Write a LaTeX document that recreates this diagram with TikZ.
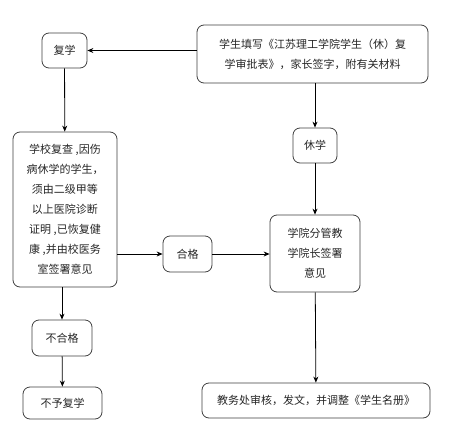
\documentclass[tikz,border=0pt]{standalone}
\usepackage{fontspec}
\newfontfamily\cjk{Noto Sans CJK SC}
\usetikzlibrary{positioning,arrows.meta}

\begin{document}
\begin{tikzpicture}[
    x=1pt, y=-1pt,
    stepbox/.style={
        draw=black!75,
        line width=0.8pt,
        rounded corners=7pt,
        inner sep=0pt,
        align=center,
        anchor=center,
        font=\cjk\fontsize{11}{20}\selectfont,
        text=black!85
    },
    arrow/.style={-{Stealth[length=6pt,width=5pt]}, line width=0.8pt, black}
]
\useasboundingbox[fill=white] (0,0) rectangle (455,442);

% Application (top right)
\node[stepbox, minimum width=231pt, minimum height=58pt] (apply) at (312.5,54)
    {学生填写《江苏理工学院学生（休）复\\学审批表》，家长签字，附有关材料};

% Return / suspend
\node[stepbox, minimum width=45pt, minimum height=35pt] (fuxue) at (64.5,50.5) {复学};
\node[stepbox, minimum width=44pt, minimum height=35pt] (xiuxue) at (315,145.5) {休学};

% School check (left)
\node[stepbox, minimum width=104pt, minimum height=155pt] (check) at (65,209.5)
    {学校复查 ,因伤\\病休学的学生，\\须由二级甲等\\以上医院诊断\\证明 ,已恢复健\\康 ,并由校医务\\室签署意见};

% Results
\node[stepbox, minimum width=49pt, minimum height=36pt] (hege) at (187.5,254) {合格};
\node[stepbox, minimum width=60pt, minimum height=36pt] (buhege) at (62,338) {不合格};
\node[stepbox, minimum width=79pt, minimum height=32pt] (buyu) at (62.5,403) {不予复学};

% Dean and registrar
\node[stepbox, minimum width=90pt, minimum height=77pt] (dean) at (315,253.5)
    {学院分管教\\学院长签署\\意见};
\node[stepbox, minimum width=228pt, minimum height=35pt] (office) at (316,400.5)
    {教务处审核，发文，并调整《学生名册》};

% Arrows
\draw[arrow] (apply.west |- fuxue.east) -- (fuxue.east);
\draw[arrow] (apply.south -| xiuxue.north) -- (xiuxue.north);
\draw[arrow] (xiuxue) -- (dean);
\draw[arrow] (fuxue) -- (check);
\draw[arrow] (check.east |- hege.west) -- (hege.west);
\draw[arrow] (hege.east) -- (dean.west |- hege.east);
\draw[arrow] (dean) -- (office);
\draw[arrow] (check.south -| buhege.north) -- (buhege.north);
\draw[arrow] (buhege) -- (buyu);

\end{tikzpicture}
\end{document}
